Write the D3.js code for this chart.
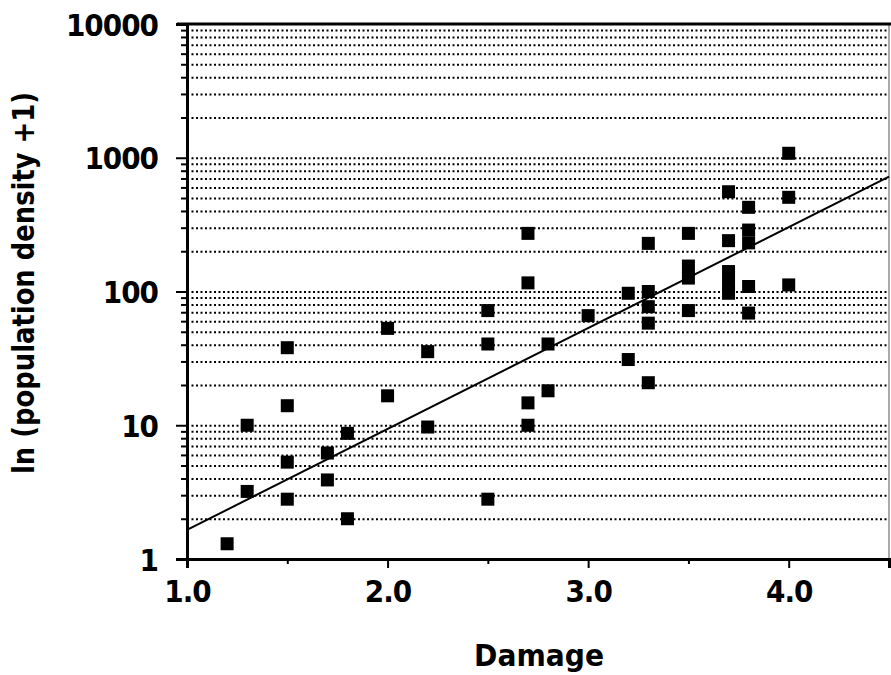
<!DOCTYPE html>
<html>
<head>
<meta charset="utf-8">
<script src="https://cdn.jsdelivr.net/npm/d3@7"></script>
<style>
  body { margin: 0; background: #fff; }
  text { font-family: "DejaVu Sans Condensed", "DejaVu Sans", sans-serif; font-weight: bold; fill: #000; }
</style>
</head>
<body>
<div id="chart"></div>
<script>
// damage class vs. population density (+1)
const damage = [1.2, 1.3, 1.3, 1.5, 1.5, 1.5, 1.5, 1.7, 1.7, 1.8, 1.8, 2.0, 2.0, 2.2, 2.2,
                2.5, 2.5, 2.5, 2.7, 2.7, 2.7, 2.7, 2.8, 2.8, 3.0, 3.2, 3.2, 3.3, 3.3, 3.3,
                3.3, 3.3, 3.5, 3.5, 3.5, 3.5, 3.7, 3.7, 3.7, 3.7, 3.7, 3.8, 3.8, 3.8, 3.8,
                3.8, 4.0, 4.0, 4.0];
const density = [1.3, 3.2, 10, 2.8, 5.3, 14, 38, 3.9, 6.2, 2.0, 8.7, 53, 16.6, 35.5, 9.7,
                 40.5, 72, 2.8, 272, 116, 14.7, 10, 18.1, 40.5, 66, 97, 31, 229, 100, 77,
                 58, 20.8, 272, 155, 126, 72, 557, 240, 141, 115, 97, 426, 288, 231, 109,
                 69, 1080, 506, 112];

// fitted line end points
const fitX = [1.0, 4.5];
const fitY = [1.65, 722];

const xTicks = [1, 2, 3, 4];
const xMinor = [1.5, 2.5, 3.5];
const yTicks = [1, 10, 100, 1000, 10000];

const width = 891, height = 675;
const margin = { top: 24, right: 2, bottom: 116, left: 187 };

const svg = d3.select("#chart").append("svg")
              .attr("width", width)
              .attr("height", height);

const x = d3.scaleLinear()
            .domain([1, 4.5])
            .range([margin.left, width - margin.right]);

const y = d3.scaleLog()
            .domain([1, 10000])
            .range([height - margin.bottom, margin.top]);

// every 1..9 x 10^k value for the dotted grid and minor ticks
const yMinor = [];
for (let k = 0; k < 4; k++) {
  for (let m = 2; m <= 9; m++) yMinor.push(m * Math.pow(10, k));
}

// dotted grid lines
const grid = svg.append("g")
   .attr("transform", `translate(${margin.left}, 0)`)
   .call(d3.axisRight(y).tickValues(yMinor.concat([10, 100, 1000])).tickSize(x(4.5) - margin.left - 2).tickFormat(""));
grid.select(".domain").remove();
grid.selectAll("line")
    .attr("stroke", "#000")
    .attr("stroke-width", 2)
    .attr("stroke-dasharray", "2,2.5");

// right border
svg.append("line")
   .attr("x1", width - margin.right).attr("x2", width - margin.right)
   .attr("y1", margin.top).attr("y2", height - margin.bottom)
   .attr("stroke", "#555").attr("stroke-width", 1);

// top border
svg.append("line")
   .attr("x1", margin.left - 10).attr("x2", width)
   .attr("y1", margin.top).attr("y2", margin.top)
   .attr("stroke", "#000").attr("stroke-width", 3);

// fitted line
svg.append("line")
   .attr("x1", x(fitX[0])).attr("y1", y(fitY[0]))
   .attr("x2", x(fitX[1])).attr("y2", y(fitY[1]))
   .attr("stroke", "#000")
   .attr("stroke-width", 2);

// points
const size = 13;
svg.selectAll("rect.pt")
   .data(damage.map((d, i) => [d, density[i]]))
   .enter()
   .append("rect")
   .attr("class", "pt")
   .attr("x", d => x(d[0]) - size / 2)
   .attr("y", d => y(d[1]) - size / 2)
   .attr("width", size)
   .attr("height", size)
   .attr("fill", "#000");

// y axis: minor ticks then major ticks with labels
const yMin = svg.append("g")
   .attr("transform", `translate(${margin.left}, 0)`)
   .call(d3.axisLeft(y).tickValues(yMinor).tickSize(6).tickFormat(""));
yMin.select(".domain").remove();
yMin.selectAll("line").attr("stroke-width", 2);

const yAxis = svg.append("g")
   .attr("transform", `translate(${margin.left}, 0)`)
   .call(d3.axisLeft(y).tickValues(yTicks).tickSize(11).tickPadding(18).tickFormat(d3.format("d")));
yAxis.select(".domain").attr("stroke-width", 3);
yAxis.selectAll("line").attr("stroke-width", 2);
yAxis.selectAll("text")
     .attr("font-size", 31)
     .attr("letter-spacing", -1)
     .attr("dy", "0.36em");

// x axis
const xMin = svg.append("g")
   .attr("transform", `translate(0, ${height - margin.bottom})`)
   .call(d3.axisBottom(x).tickValues(xMinor).tickSize(5).tickFormat(""));
xMin.select(".domain").remove();
xMin.selectAll("line").attr("stroke-width", 2);

const xAxis = svg.append("g")
   .attr("transform", `translate(0, ${height - margin.bottom})`)
   .call(d3.axisBottom(x).tickValues(xTicks).tickSize(9).tickPadding(12).tickFormat(d3.format(".1f")));
xAxis.select(".domain").attr("stroke-width", 3);
xAxis.selectAll("line").attr("stroke-width", 2);
xAxis.selectAll("text")
     .attr("font-size", 31)
     .attr("letter-spacing", -1);

// axis titles
svg.append("text")
   .attr("x", (margin.left + width) / 2)
   .attr("y", 666)
   .attr("font-size", 30)
   .attr("text-anchor", "middle")
   .attr("textLength", 130)
   .attr("lengthAdjust", "spacingAndGlyphs")
   .text("Damage");

svg.append("text")
   .attr("transform", "translate(34, 283) rotate(-90)")
   .attr("font-size", 30)
   .attr("text-anchor", "middle")
   .attr("textLength", 382)
   .attr("lengthAdjust", "spacingAndGlyphs")
   .text("ln (population density +1)");
</script>
</body>
</html>
